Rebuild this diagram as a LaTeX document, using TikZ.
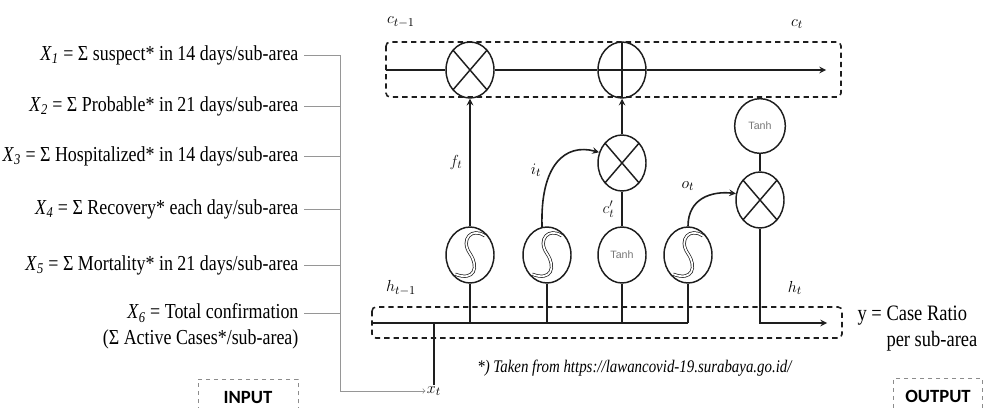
\documentclass[tikz,border=0pt]{standalone}
\usepackage{fontspec}
\setmainfont{Liberation Serif}[FakeStretch=0.84]
\newfontfamily\boxfont{Carlito}
\newfontfamily\gatefont{Liberation Sans}
\usepackage{tikz}
\usetikzlibrary{arrows,positioning,shapes.geometric}
\definecolor{lineblack}{RGB}{30,30,30}
\definecolor{wiregray}{RGB}{150,150,150}
\definecolor{boxgray}{RGB}{140,140,140}
\definecolor{tanhgray}{RGB}{120,120,120}
\tikzset{
  opnode/.style={
    ellipse, draw=lineblack, line width=1.1pt,
    minimum width=36pt, minimum height=42pt, inner sep=0pt
  },
  mulop/.style={
    opnode,
    path picture={
      \draw[lineblack, line width=1.1pt]
        (path picture bounding box.north west) -- (path picture bounding box.south east)
        (path picture bounding box.north east) -- (path picture bounding box.south west);
    }
  },
  addop/.style={
    opnode,
    path picture={
      \draw[lineblack, line width=1.1pt]
        (path picture bounding box.north) -- (path picture bounding box.south)
        (path picture bounding box.west) -- (path picture bounding box.east);
    }
  },
  sigop/.style={
    opnode,
    path picture={
      \begin{scope}[shift={(path picture bounding box.center)}, x=17pt, y=20pt]
        \draw[lineblack, line width=0.55pt, double=white, double distance=1.3pt]
          (0.65,0.72) .. controls (0.1,1.05) and (-0.45,0.6) .. (0,0.05)
          .. controls (0.4,-0.45) and (0.2,-1.0) .. (-0.65,-0.72);
      \end{scope}
    }
  },
  tanhop/.style={
    opnode, text=tanhgray, font=\gatefont\fontsize{8}{9}\selectfont
  },
  flowline/.style={lineblack, line width=1.2pt},
  flowarr/.style={->, >=stealth, lineblack, line width=1.2pt},
  inwire/.style={wiregray, line width=0.6pt},
  inarr/.style={->, wiregray, line width=0.6pt},
  stateframe/.style={
    lineblack, line width=1.2pt, dash pattern=on 4pt off 3pt,
    rounded corners=3pt
  },
  varlabel/.style={font=\fontsize{13}{15}\selectfont, inner sep=1pt},
  featlabel/.style={
    anchor=east, inner sep=4pt, font=\fontsize{16}{19}\selectfont
  },
  iobox/.style={
    draw=boxgray, dashed, line width=0.7pt, anchor=north,
    minimum width=75pt, minimum height=27pt,
    font=\boxfont\bfseries\fontsize{14}{16}\selectfont
  }
}

\begin{document}
\begin{tikzpicture}[x=0.75pt, y=-0.75pt]
  \clip[use as bounding box] (0,0) rectangle (992,407);

  % inputs
  \node[featlabel] (feat_x1) at (304,55)
    {\textit{X}\textsubscript{\textit{1}} = Σ suspect* in 14 days/sub-area};
  \node[featlabel] (feat_x2) at (304,106)
    {\textit{X}\textsubscript{\textit{2}} = Σ Probable* in 21 days/sub-area};
  \node[featlabel] (feat_x3) at (304,156)
    {\textit{X}\textsubscript{\textit{3}} = Σ Hospitalized* in 14 days/sub-area};
  \node[featlabel] (feat_x4) at (304,209)
    {\textit{X}\textsubscript{\textit{4}} = Σ Recovery* each day/sub-area};
  \node[featlabel] (feat_x5) at (304,265)
    {\textit{X}\textsubscript{\textit{5}} = Σ Mortality* in 21 days/sub-area};
  \node[featlabel] (feat_x6) at (304,313)
    {\textit{X}\textsubscript{\textit{6}} = Total confirmation};
  \node[featlabel, anchor=north east, inner ysep=1pt] (feat_x6b) at (feat_x6.south east)
    {(Σ Active Cases*/sub-area)};
  \node[iobox] (in_box) at (248,379) {INPUT};

  \coordinate (bus_top) at (340,55);
  \node[varlabel] (xt_lbl) at (434,391) {$x_t$};

  % cell state
  \node[mulop] (forget_mul) at (470,70) {};
  \node[addop] (add_cell) at (622,70) {};
  \coordinate (c_in) at (386,70);
  \coordinate (c_out) at (826,70);

  % gates
  \node[sigop] (sig_f) at (470,255) {};
  \node[sigop] (sig_i) at (547,255) {};
  \node[tanhop] (cand_tanh) at (622,255) {Tanh};
  \node[sigop] (sig_o) at (688,255) {};
  \node[mulop] (input_mul) at (622,163) {};
  \node[tanhop, minimum width=38pt, minimum height=41pt] (out_tanh) at (760,126) {Tanh};
  \node[mulop] (out_mul) at (760,200) {};

  \coordinate (h_in) at (372,323);
  \coordinate (h_out) at (827,323);

  \draw[stateframe] (386,42) rectangle (841,97);
  \draw[stateframe] (372,307) rectangle (842,338);

  \node[varlabel] (c_prev_lbl) at (401,22) {$c_{t-1}$};
  \node[varlabel] (c_next_lbl) at (797,24) {$c_t$};
  \node[varlabel] (h_prev_lbl) at (401,288) {$h_{t-1}$};
  \node[varlabel] (h_next_lbl) at (795,288) {$h_t$};
  \node[varlabel] (i_lbl) at (536,170) {$i_t$};
  \node[varlabel] (o_lbl) at (688,186) {$o_t$};

  \node[font=\fontsize{13.3}{15}\selectfont] (src_note) at (635,368)
    {\textit{*) Taken from https://lawancovid-19.surabaya.go.id/}};
  \node[anchor=west, align=left, inner sep=4pt, font=\fontsize{16.5}{19.5}\selectfont] (y_lbl)
    at (852,329) {y = Case Ratio\\\hphantom{y = }per sub-area};
  \node[iobox, minimum width=67pt] (out_box) at (938,378) {OUTPUT};

  \draw[inwire] (feat_x1.east) -- (feat_x1.east -| bus_top);
  \draw[inwire] (feat_x2.east) -- (feat_x2.east -| bus_top);
  \draw[inwire] (feat_x3.east) -- (feat_x3.east -| bus_top);
  \draw[inwire] (feat_x4.east) -- (feat_x4.east -| bus_top);
  \draw[inwire] (feat_x5.east) -- (feat_x5.east -| bus_top);
  \draw[inwire] (feat_x6.east) -- (feat_x6.east -| bus_top);
  \draw[inarr] (bus_top) |- (xt_lbl.west);

  \draw[flowline] (c_in) -- (forget_mul.west);
  \draw[flowline] (forget_mul.east) -- (add_cell.west);
  \draw[flowarr] (add_cell.east) -- (c_out);

  \draw[flowline] (h_in) -- (h_in -| sig_o);
  \draw[flowline] (xt_lbl.north) -- (xt_lbl.north |- h_in);
  \draw[flowline] (sig_f.south) -- (sig_f.south |- h_in);
  \draw[flowline] (sig_i.south) -- (sig_i.south |- h_in);
  \draw[flowline] (cand_tanh.south) -- (cand_tanh.south |- h_in);
  \draw[flowline] (sig_o.south) -- (sig_o.south |- h_in);

  \draw[flowarr] (sig_f.north) -- node[varlabel, left=4pt] {$f_t$} (forget_mul.south);
  \draw[flowarr] (sig_i.100) .. controls (540,165) and (565,143) .. (input_mul.155);
  \draw[flowline] (cand_tanh.north) -- node[varlabel, left=4pt] {$c'_t$} (input_mul.south);
  \draw[flowarr] (input_mul.north) -- (add_cell.south);
  \draw[flowarr] (sig_o.north) .. controls (688,198) and (712,191) .. (out_mul.165);
  \draw[flowline] (out_mul.north) -- (out_tanh.south);
  \draw[flowarr] (out_mul.south) |- (h_out);
\end{tikzpicture}
\end{document}
